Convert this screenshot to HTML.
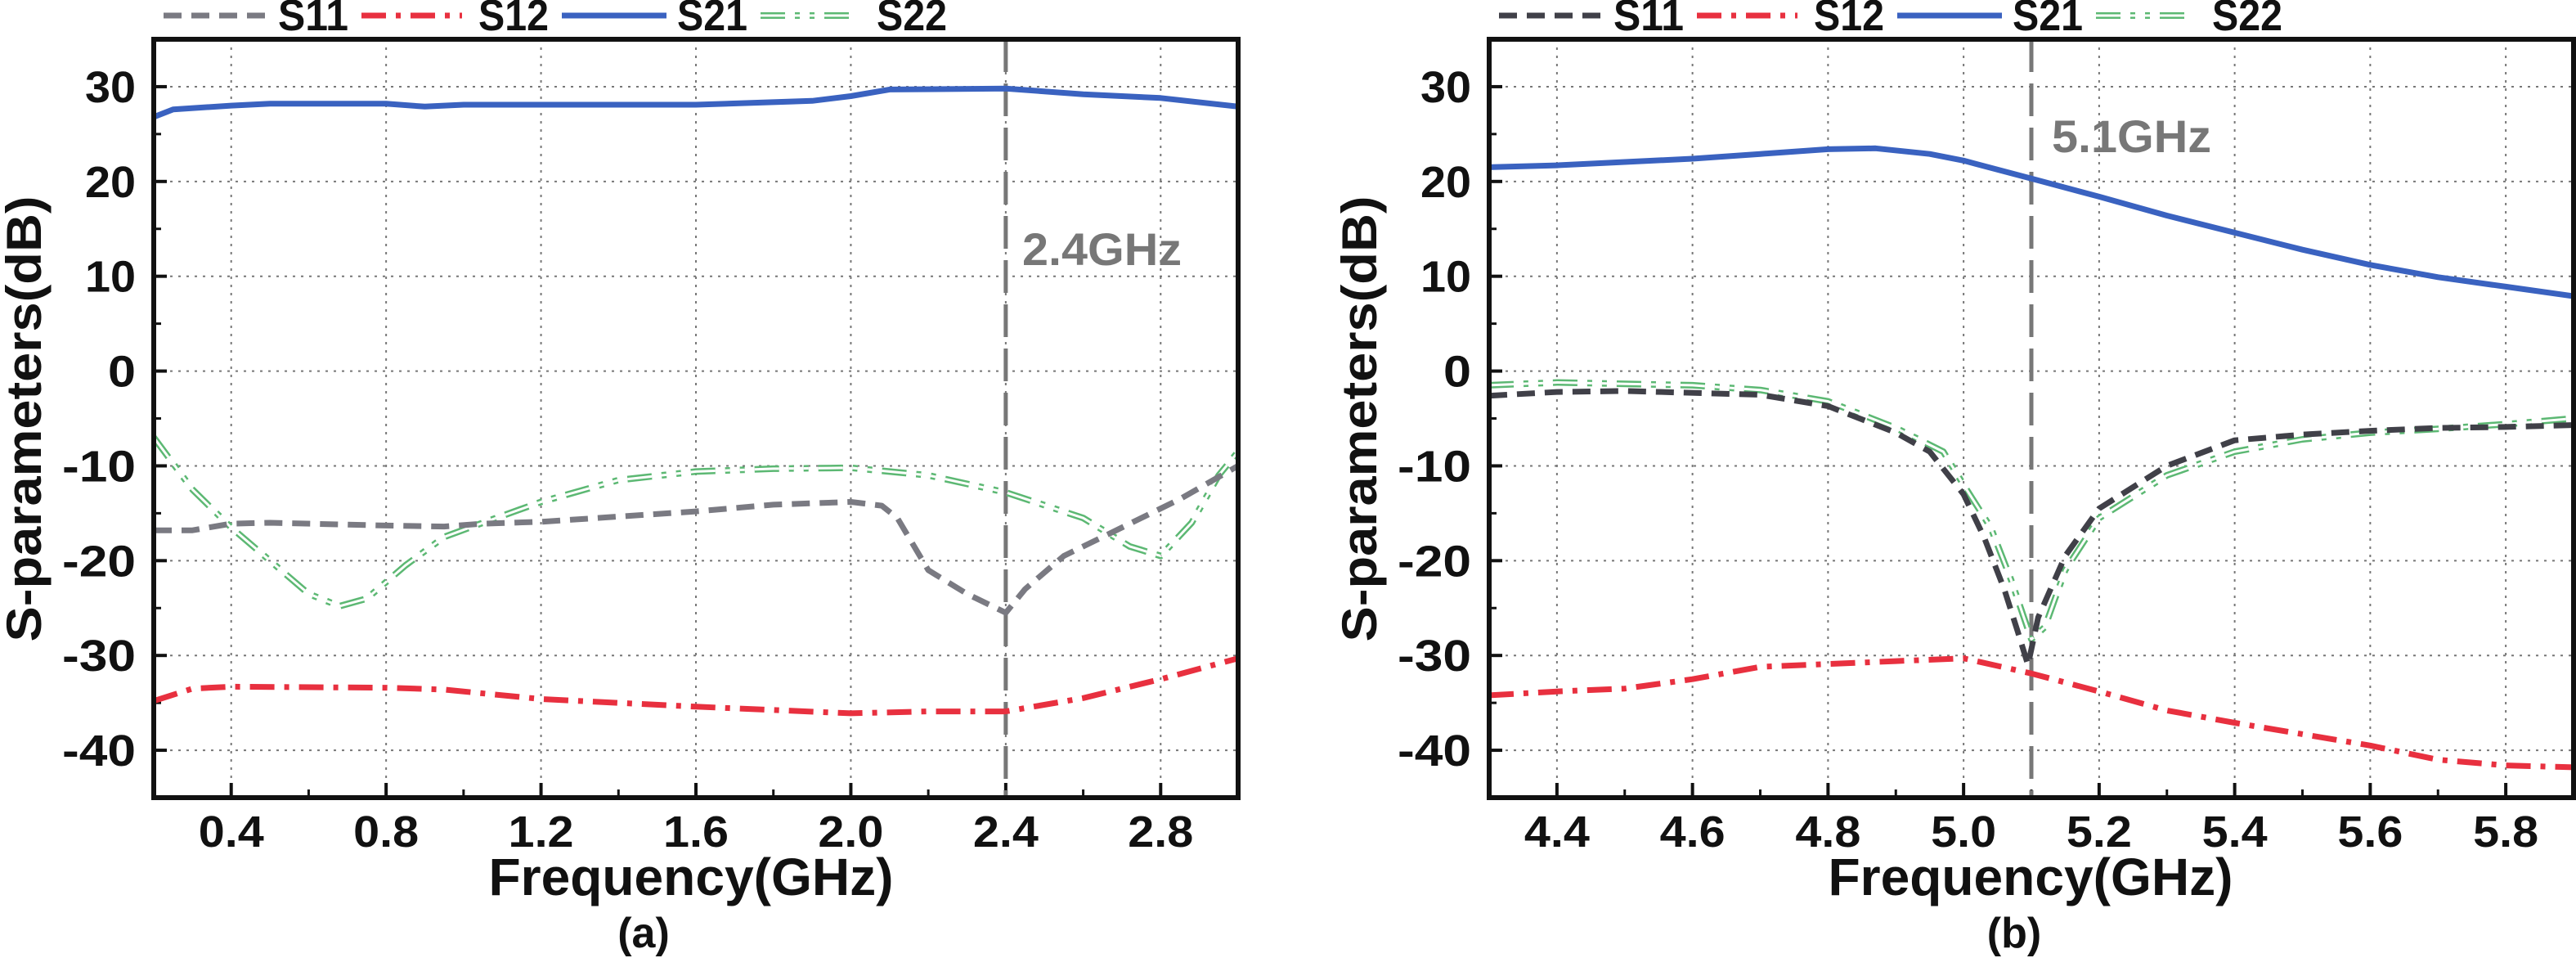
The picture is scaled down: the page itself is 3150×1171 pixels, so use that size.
<!DOCTYPE html>
<html><head><meta charset="utf-8"><style>
html,body{margin:0;padding:0;background:#fff;}
svg{display:block;font-family:"Liberation Sans",sans-serif;}
</style></head><body>
<svg id="chart" width="3150" height="1171" viewBox="0 0 3150 1171" xmlns="http://www.w3.org/2000/svg"></svg>
<script>
// ---- Panel (a) data ----
const aS11x=[0.2,0.3,0.4,0.5,0.8,0.95,1.05,1.2,1.6,1.8,2.0,2.08,2.12,2.2,2.3,2.4,2.45,2.55,2.7,2.85,3.0];
const aS11y=[-16.8,-16.8,-16.1,-16,-16.3,-16.4,-16.1,-15.9,-14.8,-14.1,-13.8,-14.2,-15.5,-21,-23.5,-25.5,-23,-19.5,-16.5,-13.5,-10];
const aS12x=[0.2,0.3,0.4,0.8,0.95,1.2,1.6,2.0,2.2,2.4,2.6,2.8,3.0];
const aS12y=[-34.8,-33.5,-33.3,-33.4,-33.6,-34.6,-35.4,-36.1,-35.9,-35.9,-34.5,-32.5,-30.3];
const aS21x=[0.2,0.25,0.4,0.5,0.8,0.9,1.0,1.6,1.9,2.0,2.1,2.4,2.6,2.8,3.0];
const aS21y=[26.8,27.6,28,28.2,28.2,27.9,28.1,28.1,28.5,29,29.7,29.8,29.2,28.8,27.9];
const aS22x=[0.2,0.3,0.4,0.5,0.6,0.68,0.75,0.85,0.95,1.05,1.2,1.4,1.6,1.8,2.0,2.2,2.4,2.6,2.72,2.8,2.88,2.95,3.0];
const aS22y=[-7,-12.5,-16.5,-20,-23.5,-24.8,-24,-20.5,-17.5,-16,-13.8,-11.5,-10.6,-10.3,-10.2,-11,-12.8,-15.5,-18.5,-19.5,-16,-11,-8.5];
const aXTicks=[0.4,0.8,1.2,1.6,2.0,2.4,2.8];
const aXLabels=["0.4","0.8","1.2","1.6","2.0","2.4","2.8"];
// ---- Panel (b) data ----
const bS11x=[4.3,4.4,4.5,4.7,4.8,4.9,4.95,5.0,5.03,5.06,5.08,5.095,5.11,5.15,5.2,5.3,5.4,5.5,5.6,5.7,5.8,5.9];
const bS11y=[-2.6,-2.2,-2.1,-2.5,-3.7,-6.5,-8.5,-13,-17.5,-23,-27.5,-31,-26,-19.5,-14.5,-10,-7.3,-6.7,-6.3,-6,-5.9,-5.7];
const bS12x=[4.3,4.4,4.5,4.6,4.7,4.8,4.9,5.0,5.1,5.2,5.3,5.4,5.5,5.6,5.7,5.8,5.9];
const bS12y=[-34.2,-33.8,-33.5,-32.5,-31.2,-30.9,-30.6,-30.3,-31.9,-33.8,-35.8,-37.1,-38.3,-39.5,-41,-41.6,-41.8];
const bS21x=[4.3,4.4,4.6,4.7,4.8,4.87,4.95,5.0,5.1,5.2,5.3,5.4,5.5,5.6,5.7,5.8,5.9];
const bS21y=[21.5,21.7,22.4,22.9,23.4,23.5,22.9,22.2,20.3,18.4,16.4,14.6,12.8,11.2,9.9,8.9,7.9];
const bS22x=[4.3,4.4,4.6,4.7,4.8,4.9,4.97,5.0,5.04,5.07,5.1,5.12,5.15,5.2,5.3,5.4,5.5,5.6,5.7,5.8,5.9];
const bS22y=[-1.5,-1.2,-1.5,-2.0,-3.2,-6,-8.5,-12,-16.5,-22,-28.3,-27,-21,-15.5,-11,-8.5,-7.2,-6.5,-6.1,-5.6,-5];
const bXTicks=[4.4,4.6,4.8,5.0,5.2,5.4,5.6,5.8];
const bXLabels=["4.4","4.6","4.8","5.0","5.2","5.4","5.6","5.8"];
const yTicks=[30,20,10,0,-10,-20,-30,-40];
const yLabels=["30","20","10","0","-10","-20","-30","-40"];

const NS="http://www.w3.org/2000/svg";
const svg=document.getElementById('chart');
function mk(tag,attrs,parent){const e=document.createElementNS(NS,tag);for(const k in attrs)e.setAttribute(k,attrs[k]);(parent||svg).appendChild(e);return e;}

function panel(cfg){
  const g=mk('g',{});
  
  
  const L=cfg.L,R=cfg.R,T=48,B=975;
  const xs=v=>L+(v-cfg.x0)/(cfg.x1-cfg.x0)*(R-L);
  const ys=v=>T+(35-v)/80*(B-T);
  // grid
  yTicks.forEach(t=>{const l=mk('line',{x1:L,x2:R,y1:ys(t),y2:ys(t),stroke:'#777','stroke-width':2,'stroke-dasharray':'3 7'},g);
    });
  cfg.xt.forEach(t=>{const l=mk('line',{x1:xs(t),x2:xs(t),y1:T,y2:B,stroke:'#777','stroke-width':2,'stroke-dasharray':'3 7'},g);
    });
  // ticks (inward)
  yTicks.forEach((t,i)=>{mk('line',{x1:L,x2:L+16,y1:ys(t),y2:ys(t),stroke:'#111','stroke-width':4},g);
    mk('line',{x1:L,x2:L+9,y1:ys(t-5),y2:ys(t-5),stroke:'#111','stroke-width':3},g);
    const tx=mk('text',{x:L-22,y:ys(t)+19,'text-anchor':'end','font-size':54,'font-weight':'bold',fill:'#111',textLength:(yLabels[i].length*28+6),lengthAdjust:'spacingAndGlyphs'},g);
    tx.textContent=yLabels[i];
    });
  const step=cfg.xt[1]-cfg.xt[0];
  cfg.xt.forEach((t,i)=>{mk('line',{x1:xs(t),x2:xs(t),y1:B,y2:B-18,stroke:'#111','stroke-width':4},g);
    mk('line',{x1:xs(t-step/2),x2:xs(t-step/2),y1:B,y2:B-10,stroke:'#111','stroke-width':3},g);
    const tx=mk('text',{x:xs(t),y:1035,'text-anchor':'middle','font-size':54,'font-weight':'bold',fill:'#111',textLength:80,lengthAdjust:'spacingAndGlyphs'},g);
    tx.textContent=cfg.xl[i];
    });
  // clip
  const cp=mk('clipPath',{id:'clip-'+cfg.id},g);mk('rect',{x:L,y:T,width:R-L,height:B-T},cp);
  const dg=mk('g',{'clip-path':'url(#clip-'+cfg.id+')'},g);
  // marker line
  const ml=mk('line',{x1:xs(cfg.mark),x2:xs(cfg.mark),y1:T,y2:B,stroke:'#777','stroke-width':5,'stroke-dasharray':'40 14'},dg);
  
  const pts=(xa,ya)=>xa.map((x,i)=>xs(x).toFixed(1)+','+ys(ya[i]).toFixed(1)).join(' ');
  const s22=mk('polyline',{points:pts(cfg.s22x,cfg.s22y),fill:'none',stroke:'#5cb873','stroke-width':8,'stroke-dasharray':'30 12 6 12 6 12','stroke-linejoin':'round'},dg);
  
  mk('polyline',{points:pts(cfg.s22x,cfg.s22y),fill:'none',stroke:'#fff','stroke-width':3,'stroke-dasharray':'30 12 6 12 6 12','stroke-linejoin':'round'},dg);
  const s11=mk('polyline',{points:pts(cfg.s11x,cfg.s11y),fill:'none',stroke:cfg.c11,'stroke-width':7,'stroke-dasharray':'22 12','stroke-linejoin':'round'},dg);
  
  const s12=mk('polyline',{points:pts(cfg.s12x,cfg.s12y),fill:'none',stroke:'#e8303f','stroke-width':7,'stroke-dasharray':'30 12 6 12','stroke-linejoin':'round'},dg);
  
  const s21=mk('polyline',{points:pts(cfg.s21x,cfg.s21y),fill:'none',stroke:'#3a62c0','stroke-width':7,'stroke-linejoin':'round'},dg);
  
  // frame
  const fr=mk('rect',{x:L,y:T,width:R-L,height:B-T,fill:'none',stroke:'#111','stroke-width':6},g);
  
  // marker label
  const mt=mk('text',{x:cfg.mlx,y:cfg.mly,'font-size':56,'font-weight':'bold',fill:'#777',textLength:195,lengthAdjust:'spacingAndGlyphs'},g);
  mt.textContent=cfg.mtext;
  // titles
  const xt=mk('text',{x:(L+R)/2-(cfg.id==='a'?6:1),y:1094,'text-anchor':'middle','font-size':64,'font-weight':'bold',fill:'#111',textLength:495,lengthAdjust:'spacingAndGlyphs'},g);
  xt.textContent='Frequency(GHz)';
  const yt=mk('text',{x:0,y:0,'text-anchor':'middle','font-size':60,'font-weight':'bold',fill:'#111',textLength:545,lengthAdjust:'spacingAndGlyphs',transform:'translate('+(cfg.ytx)+',512) rotate(-90)'},g);
  yt.textContent='S-parameters(dB)';
  const cap=mk('text',{x:cfg.capx,y:1158,'text-anchor':'middle','font-size':52,'font-weight':'bold',fill:'#111'},g);
  cap.textContent=cfg.cap;
  // legend
  const lg=mk('g',{},g);
  const ly=19,o=cfg.lo;
  const items=[
    {n:'S11',x1:200,x2:330,tx:340,st:{stroke:cfg.c11,'stroke-dasharray':'22 12'}},
    {n:'S12',x1:442,x2:565,tx:585,st:{stroke:'#e8303f','stroke-dasharray':'30 12 6 12'}},
    {n:'S21',x1:687,x2:815,tx:828,st:{stroke:'#3a62c0'}},
    {n:'S22',x1:930,x2:1050,tx:1072,st:{stroke:'#5cb873','stroke-dasharray':'30 12 6 12 6 12'}}];
  items.forEach(it=>{
    const a=Object.assign({x1:o+it.x1,x2:o+it.x2,y1:ly,y2:ly,'stroke-width':it.n==='S22'?8:7},it.st);
    const ln=mk('line',a,lg);
    if(it.n==='S22')mk('line',{x1:o+it.x1,x2:o+it.x2,y1:ly,y2:ly,stroke:'#fff','stroke-width':3,'stroke-dasharray':'30 12 6 12 6 12'},lg);
    const t=mk('text',{x:o+it.tx,y:37,'font-size':54,'font-weight':'bold',fill:'#111',textLength:86,lengthAdjust:'spacingAndGlyphs'},lg);
    t.textContent=it.n;
  });
}
panel({id:'a',L:188,R:1514,x0:0.2,x1:3.0,xt:aXTicks,xl:aXLabels,mark:2.4,mtext:'2.4GHz',mlx:1250,mly:324,
  s11x:aS11x,s11y:aS11y,s12x:aS12x,s12y:aS12y,s21x:aS21x,s21y:aS21y,s22x:aS22x,s22y:aS22y,c11:'#7a7a82',
  ytx:50,capx:787,cap:'(a)',lo:0});
panel({id:'b',L:1821,R:3147,x0:4.3,x1:5.9,xt:bXTicks,xl:bXLabels,mark:5.1,mtext:'5.1GHz',mlx:2509,mly:186,
  s11x:bS11x,s11y:bS11y,s12x:bS12x,s12y:bS12y,s21x:bS21x,s21y:bS21y,s22x:bS22x,s22y:bS22y,c11:'#404048',
  ytx:1683,capx:2463,cap:'(b)',lo:1633});
</script>
</body></html>
